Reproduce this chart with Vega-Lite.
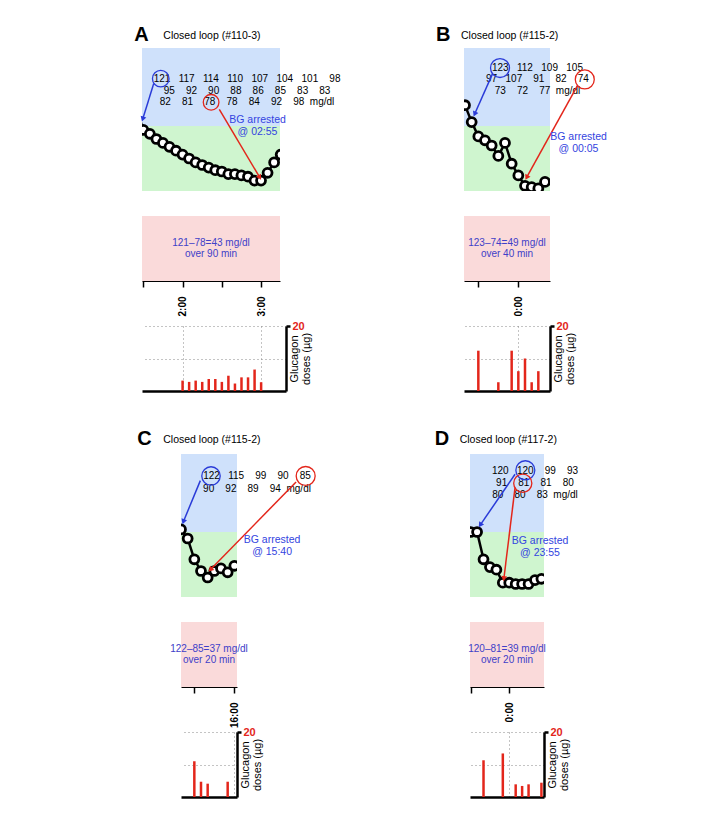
{
"$schema": "https://vega.github.io/schema/vega-lite/v6.json",
"background": "white",
"padding": {"left": 134, "top": 24, "right": 5, "bottom": 5},
"config": {"font": "Liberation Sans", "view": {"stroke": null}, "title": {"font": "Liberation Sans", "color": "black"}},
"datasets": {
"bg": [
{"panel":"A","t":"2000-01-01T01:25:00","bg":121,"line":1},
{"panel":"A","t":"2000-01-01T01:30:00","bg":117,"line":1},
{"panel":"A","t":"2000-01-01T01:35:00","bg":114,"line":1},
{"panel":"A","t":"2000-01-01T01:40:00","bg":110,"line":1},
{"panel":"A","t":"2000-01-01T01:45:00","bg":107,"line":1},
{"panel":"A","t":"2000-01-01T01:50:00","bg":104,"line":1},
{"panel":"A","t":"2000-01-01T01:55:00","bg":101,"line":1},
{"panel":"A","t":"2000-01-01T02:00:00","bg":98,"line":1},
{"panel":"A","t":"2000-01-01T02:05:00","bg":95,"line":2},
{"panel":"A","t":"2000-01-01T02:10:00","bg":92,"line":2},
{"panel":"A","t":"2000-01-01T02:15:00","bg":90,"line":2},
{"panel":"A","t":"2000-01-01T02:20:00","bg":88,"line":2},
{"panel":"A","t":"2000-01-01T02:25:00","bg":86,"line":2},
{"panel":"A","t":"2000-01-01T02:30:00","bg":85,"line":2},
{"panel":"A","t":"2000-01-01T02:35:00","bg":83,"line":2},
{"panel":"A","t":"2000-01-01T02:40:00","bg":83,"line":2},
{"panel":"A","t":"2000-01-01T02:45:00","bg":82,"line":3},
{"panel":"A","t":"2000-01-01T02:50:00","bg":81,"line":3},
{"panel":"A","t":"2000-01-01T02:55:00","bg":78,"line":3},
{"panel":"A","t":"2000-01-01T03:00:00","bg":78,"line":3},
{"panel":"A","t":"2000-01-01T03:05:00","bg":84,"line":3},
{"panel":"A","t":"2000-01-01T03:10:00","bg":92,"line":3},
{"panel":"A","t":"2000-01-01T03:15:00","bg":98,"line":3},
{"panel":"B","t":"2000-01-01T23:20:00","bg":136},
{"panel":"B","t":"2000-01-01T23:25:00","bg":123,"line":1},
{"panel":"B","t":"2000-01-01T23:30:00","bg":112,"line":1},
{"panel":"B","t":"2000-01-01T23:35:00","bg":109,"line":1},
{"panel":"B","t":"2000-01-01T23:40:00","bg":105,"line":1},
{"panel":"B","t":"2000-01-01T23:45:00","bg":97,"line":2},
{"panel":"B","t":"2000-01-01T23:50:00","bg":107,"line":2},
{"panel":"B","t":"2000-01-01T23:55:00","bg":91,"line":2},
{"panel":"B","t":"2000-01-02T00:00:00","bg":82,"line":2},
{"panel":"B","t":"2000-01-02T00:05:00","bg":74,"line":2},
{"panel":"B","t":"2000-01-02T00:10:00","bg":73,"line":3},
{"panel":"B","t":"2000-01-02T00:15:00","bg":72,"line":3},
{"panel":"B","t":"2000-01-02T00:20:00","bg":77,"line":3},
{"panel":"C","t":"2000-01-01T15:15:00","bg":132},
{"panel":"C","t":"2000-01-01T15:20:00","bg":122,"line":1},
{"panel":"C","t":"2000-01-01T15:25:00","bg":115,"line":1},
{"panel":"C","t":"2000-01-01T15:30:00","bg":99,"line":1},
{"panel":"C","t":"2000-01-01T15:35:00","bg":90,"line":1},
{"panel":"C","t":"2000-01-01T15:40:00","bg":85,"line":1},
{"panel":"C","t":"2000-01-01T15:45:00","bg":90,"line":2},
{"panel":"C","t":"2000-01-01T15:50:00","bg":92,"line":2},
{"panel":"C","t":"2000-01-01T15:55:00","bg":89,"line":2},
{"panel":"C","t":"2000-01-01T16:00:00","bg":94,"line":2},
{"panel":"D","t":"2000-01-01T23:30:00","bg":120,"line":1},
{"panel":"D","t":"2000-01-01T23:35:00","bg":120,"line":1},
{"panel":"D","t":"2000-01-01T23:40:00","bg":99,"line":1},
{"panel":"D","t":"2000-01-01T23:45:00","bg":93,"line":1},
{"panel":"D","t":"2000-01-01T23:50:00","bg":91,"line":2},
{"panel":"D","t":"2000-01-01T23:55:00","bg":81,"line":2},
{"panel":"D","t":"2000-01-02T00:00:00","bg":81,"line":2},
{"panel":"D","t":"2000-01-02T00:05:00","bg":80,"line":2},
{"panel":"D","t":"2000-01-02T00:10:00","bg":80,"line":3},
{"panel":"D","t":"2000-01-02T00:15:00","bg":80,"line":3},
{"panel":"D","t":"2000-01-02T00:20:00","bg":83,"line":3},
{"panel":"D","t":"2000-01-02T00:25:00","bg":84}
],
"glucagon": [
{"panel":"A","t":"2000-01-01T02:00:00","dose":3.2},
{"panel":"A","t":"2000-01-01T02:05:00","dose":2.8},
{"panel":"A","t":"2000-01-01T02:10:00","dose":3.2},
{"panel":"A","t":"2000-01-01T02:15:00","dose":2.8},
{"panel":"A","t":"2000-01-01T02:20:00","dose":3.7},
{"panel":"A","t":"2000-01-01T02:25:00","dose":3.7},
{"panel":"A","t":"2000-01-01T02:30:00","dose":2.8},
{"panel":"A","t":"2000-01-01T02:35:00","dose":4.7},
{"panel":"A","t":"2000-01-01T02:40:00","dose":2.3},
{"panel":"A","t":"2000-01-01T02:45:00","dose":4.2},
{"panel":"A","t":"2000-01-01T02:50:00","dose":4.2},
{"panel":"A","t":"2000-01-01T02:55:00","dose":6.6},
{"panel":"A","t":"2000-01-01T03:00:00","dose":2.7},
{"panel":"B","t":"2000-01-01T23:30:00","dose":12.4},
{"panel":"B","t":"2000-01-01T23:45:00","dose":2.7},
{"panel":"B","t":"2000-01-01T23:55:00","dose":12.4},
{"panel":"B","t":"2000-01-02T00:00:00","dose":6.1},
{"panel":"B","t":"2000-01-02T00:05:00","dose":10.0},
{"panel":"B","t":"2000-01-02T00:10:00","dose":2.7},
{"panel":"B","t":"2000-01-02T00:15:00","dose":6.1},
{"panel":"C","t":"2000-01-01T15:30:00","dose":11.0},
{"panel":"C","t":"2000-01-01T15:35:00","dose":4.7},
{"panel":"C","t":"2000-01-01T15:40:00","dose":4.1},
{"panel":"C","t":"2000-01-01T15:55:00","dose":4.7},
{"panel":"D","t":"2000-01-01T23:40:00","dose":11.3},
{"panel":"D","t":"2000-01-01T23:55:00","dose":13.4},
{"panel":"D","t":"2000-01-02T00:05:00","dose":3.9},
{"panel":"D","t":"2000-01-02T00:10:00","dose":3.4},
{"panel":"D","t":"2000-01-02T00:15:00","dose":3.9},
{"panel":"D","t":"2000-01-02T00:25:00","dose":4.4}
]
},
"columns": 1,
"align": "none",
"spacing": 35,
"concat": [
{"spacing": 95, "hconcat": [
{"title": {"text": "A", "fontSize": 20, "fontWeight": "bold", "anchor": "start", "dx": -4, "dy": 14, "offset": 0},
 "vconcat": [{
  "title": {"text": "Closed loop (#110-3)", "fontSize": 10.5, "fontWeight": "normal", "anchor": "start", "dx": 25, "offset": 7},
  "spacing": 25,
  "vconcat": [
   {"width": 138, "height": 143, "layer": [
    {"data": {"values": [{}]}, "mark": {"type": "rect", "color": "#cfe1fb"},
     "encoding": {"x": {"datum": {"year":2000,"month":1,"date":1,"hours":1,"minutes":29}, "type": "temporal", "scale": {"domain": [{"year":2000,"month":1,"date":1,"hours":1,"minutes":29},{"year":2000,"month":1,"date":1,"hours":3,"minutes":14,"seconds":30}], "nice": false}, "axis": null},
      "x2": {"datum": {"year":2000,"month":1,"date":1,"hours":3,"minutes":14,"seconds":30}},
      "y": {"datum": 120, "type": "quantitative", "scale": {"domain": [70,180], "nice": false, "zero": false}, "axis": null}, "y2": {"datum": 180}}},
    {"data": {"values": [{}]}, "mark": {"type": "rect", "color": "#cff5cf"},
     "encoding": {"x": {"datum": {"year":2000,"month":1,"date":1,"hours":1,"minutes":29}, "type": "temporal", "axis": null},
      "x2": {"datum": {"year":2000,"month":1,"date":1,"hours":3,"minutes":14,"seconds":30}},
      "y": {"datum": 70, "type": "quantitative", "axis": null}, "y2": {"datum": 120}}},
    {"data": {"name": "bg"}, "transform": [{"filter": "datum.panel == 'A'"}], "mark": {"type": "line", "color": "black", "strokeWidth": 2.5, "clip": true},
     "encoding": {"x": {"field": "t", "type": "temporal", "axis": null}, "y": {"field": "bg", "type": "quantitative", "axis": null}}},
    {"data": {"name": "bg"}, "transform": [{"filter": "datum.panel == 'A'"}], "mark": {"type": "point", "shape": "circle", "filled": true, "fill": "white", "stroke": "black", "strokeWidth": 2.8, "size": 80, "opacity": 1, "clip": true},
     "encoding": {"x": {"field": "t", "type": "temporal", "axis": null}, "y": {"field": "bg", "type": "quantitative", "axis": null}}},
    {"data": {"name": "bg"}, "transform": [
      {"filter": "datum.panel == 'A' && isValid(datum.line)"},
      {"calculate": "(datum.bg < 100 ? '\u2008' : '') + datum.bg", "as": "tok"},
      {"aggregate": [{"op": "values", "field": "tok", "as": "vals"}], "groupby": ["line"]},
      {"joinaggregate": [{"op": "max", "field": "line", "as": "maxline"}]},
      {"calculate": "join(pluck(datum.vals, 'tok'), '\u00a0\u00a0\u00a0') + (datum.line == datum.maxline ? '\u00a0\u00a0mg/dl' : '')", "as": "txt"},
      {"aggregate": [{"op": "values", "field": "txt", "as": "all"}]},
      {"calculate": "pluck(datum.all, 'txt')", "as": "lines"}],
     "mark": {"type": "text", "fontSize": 10, "lineHeight": 11.7, "align": "center", "baseline": "middle", "color": "black"},
     "encoding": {"x": {"datum": {"year":2000,"month":1,"date":1,"hours":2,"minutes":49,"seconds":18}, "type": "temporal", "axis": null}, "y": {"datum": 156.2, "type": "quantitative", "axis": null}, "text": {"field": "lines", "type": "nominal"}}},
    {"data": {"values": [{}]}, "mark": {"type": "point", "shape": "circle", "filled": false, "stroke": "#2a3bd8", "strokeWidth": 1.3, "size": 275, "opacity": 1},
     "encoding": {"x": {"datum": {"year":2000,"month":1,"date":1,"hours":1,"minutes":43,"seconds":20}, "type": "temporal", "axis": null}, "y": {"datum": 156.4, "type": "quantitative", "axis": null}}},
    {"data": {"values": [{}]}, "mark": {"type": "point", "shape": "circle", "filled": false, "stroke": "#e3261b", "strokeWidth": 1.3, "size": 245, "opacity": 1},
     "encoding": {"x": {"datum": {"year":2000,"month":1,"date":1,"hours":2,"minutes":21,"seconds":50}, "type": "temporal", "axis": null}, "y": {"datum": 138.2, "type": "quantitative", "axis": null}}},
    {"data": {"values": [{}]}, "mark": {"type": "rule", "color": "#2a3bd8", "strokeWidth": 1.5},
     "encoding": {"x": {"datum": {"year":2000,"month":1,"date":1,"hours":1,"minutes":38,"seconds":0}, "type": "temporal", "axis": null}, "y": {"datum": 152.8, "type": "quantitative", "axis": null},
      "x2": {"datum": {"year":2000,"month":1,"date":1,"hours":1,"minutes":29,"seconds":45}}, "y2": {"datum": 125.9}}},
    {"data": {"values": [{}]}, "mark": {"type": "point", "shape": "triangle", "filled": true, "color": "#2a3bd8", "size": 35, "angle": 198, "opacity": 1},
     "encoding": {"x": {"datum": {"year":2000,"month":1,"date":1,"hours":1,"minutes":29,"seconds":45}, "type": "temporal", "axis": null}, "y": {"datum": 125.9, "type": "quantitative", "axis": null}}},
    {"data": {"values": [{}]}, "mark": {"type": "rule", "color": "#e3261b", "strokeWidth": 1.5},
     "encoding": {"x": {"datum": {"year":2000,"month":1,"date":1,"hours":2,"minutes":28,"seconds":6}, "type": "temporal", "axis": null}, "y": {"datum": 132.8, "type": "quantitative", "axis": null},
      "x2": {"datum": {"year":2000,"month":1,"date":1,"hours":2,"minutes":58,"seconds":42}}, "y2": {"datum": 81}}},
    {"data": {"values": [{}]}, "mark": {"type": "point", "shape": "triangle", "filled": true, "color": "#e3261b", "size": 35, "angle": 149, "opacity": 1},
     "encoding": {"x": {"datum": {"year":2000,"month":1,"date":1,"hours":2,"minutes":58,"seconds":42}, "type": "temporal", "axis": null}, "y": {"datum": 81, "type": "quantitative", "axis": null}}},
    {"data": {"values": [{}]}, "mark": {"type": "text", "fontSize": 10.5, "lineHeight": 12, "align": "center", "baseline": "middle", "color": "#3344e0"},
     "encoding": {"x": {"datum": {"year":2000,"month":1,"date":1,"hours":2,"minutes":57,"seconds":18}, "type": "temporal", "axis": null}, "y": {"datum": 124.6, "type": "quantitative", "axis": null}, "text": {"value": ["BG arrested", "@ 02:55"]}}}
   ]},
   {"bounds": "flush", "spacing": 45, "vconcat": [
    {"width": 138, "height": 65, "view": {"fill": "#fadada", "stroke": null}, "data": {"values": [{}]},
     "mark": {"type": "text", "fontSize": 10, "lineHeight": 11.5, "align": "center", "baseline": "middle", "color": "#4040c8", "dy": -6},
     "encoding": {"x": {"datum": {"year":2000,"month":1,"date":1,"hours":2,"minutes":21,"seconds":45}, "type": "temporal",
       "scale": {"domain": [{"year":2000,"month":1,"date":1,"hours":1,"minutes":29},{"year":2000,"month":1,"date":1,"hours":3,"minutes":14,"seconds":30}], "nice": false},
       "axis": {"values": [{"year":2000,"month":1,"date":1,"hours":1,"minutes":30},{"year":2000,"month":1,"date":1,"hours":2,"minutes":0},{"year":2000,"month":1,"date":1,"hours":2,"minutes":30},{"year":2000,"month":1,"date":1,"hours":3,"minutes":0}],
        "labelExpr": "minutes(datum.value) == 0 ? timeFormat(datum.value, '%-H:%M') : ''", "labelAngle": 270, "labelFontWeight": "bold", "labelFontSize": 10, "labelColor": "black", "labelPadding": 9, "labelFlush": false, "labelOverlap": false,
        "tickSize": 6, "tickWidth": 1.5, "tickColor": "black", "domainColor": "black", "domainWidth": 1, "title": null, "grid": false}},
      "text": {"value": ["121–78=43 mg/dl", "over 90 min"]}}},
    {"width": 144, "height": 65, "data": {"name": "glucagon"}, "transform": [{"filter": "datum.panel == 'A'"}],
     "mark": {"type": "rule", "color": "#e3261b", "strokeWidth": 2.5},
     "encoding": {"x": {"field": "t", "type": "temporal", "scale": {"domain": [{"year":2000,"month":1,"date":1,"hours":1,"minutes":29},{"year":2000,"month":1,"date":1,"hours":3,"minutes":19}], "nice": false},
       "axis": {"values": [{"year":2000,"month":1,"date":1,"hours":2,"minutes":0},{"year":2000,"month":1,"date":1,"hours":3,"minutes":0}], "labels": false, "ticks": false, "domainColor": "black", "domainWidth": 2.5, "grid": true, "gridDash": [1,3], "gridColor": "#888", "title": null}},
      "y": {"field": "dose", "type": "quantitative", "scale": {"domain": [0,20], "nice": false},
       "axis": {"orient": "right", "values": [10,20], "labelExpr": "datum.value == 20 ? '20' : ''", "labelColor": "#e3261b", "labelFontWeight": "bold", "labelFontSize": 11, "labelPadding": 2,
        "tickSize": 4, "tickWidth": 2.5, "tickColor": {"condition": {"test": "datum.value == 20", "value": "black"}, "value": "transparent"},
        "domainColor": "black", "domainWidth": 2.5, "grid": true, "gridDash": [1,3], "gridColor": "#888",
        "title": ["Glucagon", "doses (µg)"], "titleAngle": 270, "titleBaseline": "top", "titleAlign": "center", "titleFontSize": 11, "titleFontWeight": "normal", "titlePadding": -27, "titleLineHeight": 11.5}},
      "y2": {"datum": 0}}}
   ]}
  ]
 }]
},
{"title": {"text": "B", "fontSize": 20, "fontWeight": "bold", "anchor": "start", "dx": -25, "dy": 14, "offset": 0},
 "vconcat": [{
  "title": {"text": "Closed loop (#115-2)", "fontSize": 10.5, "fontWeight": "normal", "anchor": "start", "dx": -3, "offset": 7},
  "spacing": 25,
  "vconcat": [
   {"width": 86, "height": 143, "layer": [
    {"data": {"values": [{}]}, "mark": {"type": "rect", "color": "#cfe1fb"},
     "encoding": {"x": {"datum": {"year":2000,"month":1,"date":1,"hours":23,"minutes":19,"seconds":15}, "type": "temporal", "scale": {"domain": [{"year":2000,"month":1,"date":1,"hours":23,"minutes":19,"seconds":15},{"year":2000,"month":1,"date":2,"hours":0,"minutes":23,"seconds":45}], "nice": false}, "axis": null},
      "x2": {"datum": {"year":2000,"month":1,"date":2,"hours":0,"minutes":23,"seconds":45}},
      "y": {"datum": 120, "type": "quantitative", "scale": {"domain": [70,180], "nice": false, "zero": false}, "axis": null}, "y2": {"datum": 180}}},
    {"data": {"values": [{}]}, "mark": {"type": "rect", "color": "#cff5cf"},
     "encoding": {"x": {"datum": {"year":2000,"month":1,"date":1,"hours":23,"minutes":19,"seconds":15}, "type": "temporal", "axis": null},
      "x2": {"datum": {"year":2000,"month":1,"date":2,"hours":0,"minutes":23,"seconds":45}},
      "y": {"datum": 70, "type": "quantitative", "axis": null}, "y2": {"datum": 120}}},
    {"data": {"name": "bg"}, "transform": [{"filter": "datum.panel == 'B'"}], "mark": {"type": "line", "color": "black", "strokeWidth": 2.5, "clip": true},
     "encoding": {"x": {"field": "t", "type": "temporal", "axis": null}, "y": {"field": "bg", "type": "quantitative", "axis": null}}},
    {"data": {"name": "bg"}, "transform": [{"filter": "datum.panel == 'B'"}], "mark": {"type": "point", "shape": "circle", "filled": true, "fill": "white", "stroke": "black", "strokeWidth": 2.8, "size": 80, "opacity": 1, "clip": true},
     "encoding": {"x": {"field": "t", "type": "temporal", "axis": null}, "y": {"field": "bg", "type": "quantitative", "axis": null}}},
    {"data": {"name": "bg"}, "transform": [
      {"filter": "datum.panel == 'B' && isValid(datum.line)"},
      {"calculate": "(datum.bg < 100 ? '\u2008' : '') + datum.bg", "as": "tok"},
      {"aggregate": [{"op": "values", "field": "tok", "as": "vals"}], "groupby": ["line"]},
      {"joinaggregate": [{"op": "max", "field": "line", "as": "maxline"}]},
      {"calculate": "join(pluck(datum.vals, 'tok'), '\u00a0\u00a0\u00a0') + (datum.line == datum.maxline ? '\u00a0\u00a0mg/dl' : '')", "as": "txt"},
      {"aggregate": [{"op": "values", "field": "txt", "as": "all"}]},
      {"calculate": "pluck(datum.all, 'txt')", "as": "lines"}],
     "mark": {"type": "text", "fontSize": 10, "lineHeight": 11.2, "align": "center", "baseline": "middle", "color": "black"},
     "encoding": {"x": {"datum": {"year":2000,"month":1,"date":2,"hours":0,"minutes":14,"seconds":21}, "type": "temporal", "axis": null}, "y": {"datum": 164.4, "type": "quantitative", "axis": null}, "text": {"field": "lines", "type": "nominal"}}},
    {"data": {"values": [{}]}, "mark": {"type": "point", "shape": "circle", "filled": false, "stroke": "#2a3bd8", "strokeWidth": 1.3, "size": 360, "opacity": 1},
     "encoding": {"x": {"datum": {"year":2000,"month":1,"date":1,"hours":23,"minutes":46,"seconds":15}, "type": "temporal", "axis": null}, "y": {"datum": 164.6, "type": "quantitative", "axis": null}}},
    {"data": {"values": [{}]}, "mark": {"type": "point", "shape": "circle", "filled": false, "stroke": "#e3261b", "strokeWidth": 1.3, "size": 360, "opacity": 1},
     "encoding": {"x": {"datum": {"year":2000,"month":1,"date":2,"hours":0,"minutes":49,"seconds":50}, "type": "temporal", "axis": null}, "y": {"datum": 155.8, "type": "quantitative", "axis": null}}},
    {"data": {"values": [{}]}, "mark": {"type": "rule", "color": "#2a3bd8", "strokeWidth": 1.5},
     "encoding": {"x": {"datum": {"year":2000,"month":1,"date":1,"hours":23,"minutes":40,"seconds":45}, "type": "temporal", "axis": null}, "y": {"datum": 160.5, "type": "quantitative", "axis": null},
      "x2": {"datum": {"year":2000,"month":1,"date":1,"hours":23,"minutes":27,"seconds":30}}, "y2": {"datum": 129.8}}},
    {"data": {"values": [{}]}, "mark": {"type": "point", "shape": "triangle", "filled": true, "color": "#2a3bd8", "size": 35, "angle": 204, "opacity": 1},
     "encoding": {"x": {"datum": {"year":2000,"month":1,"date":1,"hours":23,"minutes":27,"seconds":30}, "type": "temporal", "axis": null}, "y": {"datum": 129.8, "type": "quantitative", "axis": null}}},
    {"data": {"values": [{}]}, "mark": {"type": "rule", "color": "#e3261b", "strokeWidth": 1.5},
     "encoding": {"x": {"datum": {"year":2000,"month":1,"date":2,"hours":0,"minutes":44,"seconds":33}, "type": "temporal", "axis": null}, "y": {"datum": 151.5, "type": "quantitative", "axis": null},
      "x2": {"datum": {"year":2000,"month":1,"date":2,"hours":0,"minutes":6,"seconds":33}}, "y2": {"datum": 81}}},
    {"data": {"values": [{}]}, "mark": {"type": "point", "shape": "triangle", "filled": true, "color": "#e3261b", "size": 35, "angle": 209, "opacity": 1},
     "encoding": {"x": {"datum": {"year":2000,"month":1,"date":2,"hours":0,"minutes":6,"seconds":33}, "type": "temporal", "axis": null}, "y": {"datum": 81, "type": "quantitative", "axis": null}}},
    {"data": {"values": [{}]}, "mark": {"type": "text", "fontSize": 10.5, "lineHeight": 12, "align": "center", "baseline": "middle", "color": "#3344e0"},
     "encoding": {"x": {"datum": {"year":2000,"month":1,"date":2,"hours":0,"minutes":45,"seconds":9}, "type": "temporal", "axis": null}, "y": {"datum": 111.5, "type": "quantitative", "axis": null}, "text": {"value": ["BG arrested", "@ 00:05"]}}}
   ]},
   {"bounds": "flush", "spacing": 45, "vconcat": [
    {"width": 86, "height": 65, "view": {"fill": "#fadada", "stroke": null}, "data": {"values": [{}]},
     "mark": {"type": "text", "fontSize": 10, "lineHeight": 11.5, "align": "center", "baseline": "middle", "color": "#4040c8", "dy": -6},
     "encoding": {"x": {"datum": {"year":2000,"month":1,"date":1,"hours":23,"minutes":51,"seconds":30}, "type": "temporal",
       "scale": {"domain": [{"year":2000,"month":1,"date":1,"hours":23,"minutes":19,"seconds":15},{"year":2000,"month":1,"date":2,"hours":0,"minutes":23,"seconds":45}], "nice": false},
       "axis": {"values": [{"year":2000,"month":1,"date":1,"hours":23,"minutes":30},{"year":2000,"month":1,"date":2,"hours":0,"minutes":0}],
        "labelExpr": "minutes(datum.value) == 0 ? timeFormat(datum.value, '%-H:%M') : ''", "labelAngle": 270, "labelFontWeight": "bold", "labelFontSize": 10, "labelColor": "black", "labelPadding": 9, "labelFlush": false, "labelOverlap": false,
        "tickSize": 6, "tickWidth": 1.5, "tickColor": "black", "domainColor": "black", "domainWidth": 1, "title": null, "grid": false}},
      "text": {"value": ["123–74=49 mg/dl", "over 40 min"]}}},
    {"width": 86, "height": 65, "data": {"name": "glucagon"}, "transform": [{"filter": "datum.panel == 'B'"}],
     "mark": {"type": "rule", "color": "#e3261b", "strokeWidth": 2.5},
     "encoding": {"x": {"field": "t", "type": "temporal", "scale": {"domain": [{"year":2000,"month":1,"date":1,"hours":23,"minutes":19,"seconds":15},{"year":2000,"month":1,"date":2,"hours":0,"minutes":23,"seconds":45}], "nice": false},
       "axis": {"values": [{"year":2000,"month":1,"date":2,"hours":0,"minutes":0}], "labels": false, "ticks": false, "domainColor": "black", "domainWidth": 2.5, "grid": true, "gridDash": [1,3], "gridColor": "#888", "title": null}},
      "y": {"field": "dose", "type": "quantitative", "scale": {"domain": [0,20], "nice": false},
       "axis": {"orient": "right", "values": [10,20], "labelExpr": "datum.value == 20 ? '20' : ''", "labelColor": "#e3261b", "labelFontWeight": "bold", "labelFontSize": 11, "labelPadding": 2,
        "tickSize": 4, "tickWidth": 2.5, "tickColor": {"condition": {"test": "datum.value == 20", "value": "black"}, "value": "transparent"},
        "domainColor": "black", "domainWidth": 2.5, "grid": true, "gridDash": [1,3], "gridColor": "#888",
        "title": ["Glucagon", "doses (µg)"], "titleAngle": 270, "titleBaseline": "top", "titleAlign": "center", "titleFontSize": 11, "titleFontWeight": "normal", "titlePadding": -27, "titleLineHeight": 11.5}},
      "y2": {"datum": 0}}}
   ]}
  ]
 }]
}
]},
{"spacing": 116, "hconcat": [
{"spacing": -6, "hconcat": [
{"width": 1, "height": 1, "data": {"values": []}, "mark": "point"},
{"title": {"text": "C", "fontSize": 20, "fontWeight": "bold", "anchor": "start", "dx": -26, "dy": 14, "offset": 0},
 "vconcat": [{
  "title": {"text": "Closed loop (#115-2)", "fontSize": 10.5, "fontWeight": "normal", "anchor": "start", "dx": -7, "offset": 9},
  "spacing": 25,
  "vconcat": [
   {"width": 56, "height": 143, "layer": [
    {"data": {"values": [{}]}, "mark": {"type": "rect", "color": "#cfe1fb"},
     "encoding": {"x": {"datum": {"year":2000,"month":1,"date":1,"hours":15,"minutes":20}, "type": "temporal", "scale": {"domain": [{"year":2000,"month":1,"date":1,"hours":15,"minutes":20},{"year":2000,"month":1,"date":1,"hours":16,"minutes":2}], "nice": false}, "axis": null},
      "x2": {"datum": {"year":2000,"month":1,"date":1,"hours":16,"minutes":2}},
      "y": {"datum": 120, "type": "quantitative", "scale": {"domain": [70,180], "nice": false, "zero": false}, "axis": null}, "y2": {"datum": 180}}},
    {"data": {"values": [{}]}, "mark": {"type": "rect", "color": "#cff5cf"},
     "encoding": {"x": {"datum": {"year":2000,"month":1,"date":1,"hours":15,"minutes":20}, "type": "temporal", "axis": null},
      "x2": {"datum": {"year":2000,"month":1,"date":1,"hours":16,"minutes":2}},
      "y": {"datum": 70, "type": "quantitative", "axis": null}, "y2": {"datum": 120}}},
    {"data": {"name": "bg"}, "transform": [{"filter": "datum.panel == 'C'"}], "mark": {"type": "line", "color": "black", "strokeWidth": 2.5, "clip": true},
     "encoding": {"x": {"field": "t", "type": "temporal", "axis": null}, "y": {"field": "bg", "type": "quantitative", "axis": null}}},
    {"data": {"name": "bg"}, "transform": [{"filter": "datum.panel == 'C'"}], "mark": {"type": "point", "shape": "circle", "filled": true, "fill": "white", "stroke": "black", "strokeWidth": 2.8, "size": 80, "opacity": 1, "clip": true},
     "encoding": {"x": {"field": "t", "type": "temporal", "axis": null}, "y": {"field": "bg", "type": "quantitative", "axis": null}}},
    {"data": {"name": "bg"}, "transform": [
      {"filter": "datum.panel == 'C' && isValid(datum.line)"},
      {"calculate": "(datum.bg < 100 ? '\u2008' : '') + datum.bg", "as": "tok"},
      {"aggregate": [{"op": "values", "field": "tok", "as": "vals"}], "groupby": ["line"]},
      {"joinaggregate": [{"op": "max", "field": "line", "as": "maxline"}]},
      {"calculate": "join(pluck(datum.vals, 'tok'), '\u00a0\u00a0\u00a0') + (datum.line == datum.maxline ? '\u00a0\u00a0mg/dl' : '')", "as": "txt"},
      {"aggregate": [{"op": "values", "field": "txt", "as": "all"}]},
      {"calculate": "pluck(datum.all, 'txt')", "as": "lines"}],
     "mark": {"type": "text", "fontSize": 10, "lineHeight": 13, "align": "center", "baseline": "middle", "color": "black"},
     "encoding": {"x": {"datum": {"year":2000,"month":1,"date":1,"hours":16,"minutes":17}, "type": "temporal", "axis": null}, "y": {"datum": 163.1, "type": "quantitative", "axis": null}, "text": {"field": "lines", "type": "nominal"}}},
    {"data": {"values": [{}]}, "mark": {"type": "point", "shape": "circle", "filled": false, "stroke": "#2a3bd8", "strokeWidth": 1.3, "size": 340, "opacity": 1},
     "encoding": {"x": {"datum": {"year":2000,"month":1,"date":1,"hours":15,"minutes":42,"seconds":30}, "type": "temporal", "axis": null}, "y": {"datum": 163.1, "type": "quantitative", "axis": null}}},
    {"data": {"values": [{}]}, "mark": {"type": "point", "shape": "circle", "filled": false, "stroke": "#e3261b", "strokeWidth": 1.3, "size": 360, "opacity": 1},
     "encoding": {"x": {"datum": {"year":2000,"month":1,"date":1,"hours":16,"minutes":53,"seconds":30}, "type": "temporal", "axis": null}, "y": {"datum": 163.1, "type": "quantitative", "axis": null}}},
    {"data": {"values": [{}]}, "mark": {"type": "rule", "color": "#2a3bd8", "strokeWidth": 1.5},
     "encoding": {"x": {"datum": {"year":2000,"month":1,"date":1,"hours":15,"minutes":34,"seconds":30}, "type": "temporal", "axis": null}, "y": {"datum": 159.5, "type": "quantitative", "axis": null},
      "x2": {"datum": {"year":2000,"month":1,"date":1,"hours":15,"minutes":22}}, "y2": {"datum": 128.5}}},
    {"data": {"values": [{}]}, "mark": {"type": "point", "shape": "triangle", "filled": true, "color": "#2a3bd8", "size": 35, "angle": 200, "opacity": 1},
     "encoding": {"x": {"datum": {"year":2000,"month":1,"date":1,"hours":15,"minutes":22}, "type": "temporal", "axis": null}, "y": {"datum": 128.5, "type": "quantitative", "axis": null}}},
    {"data": {"values": [{}]}, "mark": {"type": "rule", "color": "#e3261b", "strokeWidth": 1.5},
     "encoding": {"x": {"datum": {"year":2000,"month":1,"date":1,"hours":16,"minutes":46,"seconds":18}, "type": "temporal", "axis": null}, "y": {"datum": 158.5, "type": "quantitative", "axis": null},
      "x2": {"datum": {"year":2000,"month":1,"date":1,"hours":15,"minutes":42,"seconds":30}}, "y2": {"datum": 91.5}}},
    {"data": {"values": [{}]}, "mark": {"type": "point", "shape": "triangle", "filled": true, "color": "#e3261b", "size": 35, "angle": 224, "opacity": 1},
     "encoding": {"x": {"datum": {"year":2000,"month":1,"date":1,"hours":15,"minutes":42,"seconds":30}, "type": "temporal", "axis": null}, "y": {"datum": 91.5, "type": "quantitative", "axis": null}}},
    {"data": {"values": [{}]}, "mark": {"type": "text", "fontSize": 10.5, "lineHeight": 12, "align": "center", "baseline": "middle", "color": "#3344e0"},
     "encoding": {"x": {"datum": {"year":2000,"month":1,"date":1,"hours":16,"minutes":28,"seconds":18}, "type": "temporal", "axis": null}, "y": {"datum": 113.8, "type": "quantitative", "axis": null}, "text": {"value": ["BG arrested", "@ 15:40"]}}}
   ]},
   {"bounds": "flush", "spacing": 45, "vconcat": [
    {"width": 56, "height": 65, "view": {"fill": "#fadada", "stroke": null}, "data": {"values": [{}]},
     "mark": {"type": "text", "fontSize": 10, "lineHeight": 11.5, "align": "center", "baseline": "middle", "color": "#4040c8", "dy": -6},
     "encoding": {"x": {"datum": {"year":2000,"month":1,"date":1,"hours":15,"minutes":41}, "type": "temporal",
       "scale": {"domain": [{"year":2000,"month":1,"date":1,"hours":15,"minutes":20},{"year":2000,"month":1,"date":1,"hours":16,"minutes":2}], "nice": false},
       "axis": {"values": [{"year":2000,"month":1,"date":1,"hours":15,"minutes":30},{"year":2000,"month":1,"date":1,"hours":16,"minutes":0}],
        "labelExpr": "minutes(datum.value) == 0 ? timeFormat(datum.value, '%-H:%M') : ''", "labelAngle": 270, "labelFontWeight": "bold", "labelFontSize": 10, "labelColor": "black", "labelPadding": 9, "labelFlush": false, "labelOverlap": false,
        "tickSize": 6, "tickWidth": 1.5, "tickColor": "black", "domainColor": "black", "domainWidth": 1, "title": null, "grid": false}},
      "text": {"value": ["122–85=37 mg/dl", "over 20 min"]}}},
    {"width": 56, "height": 65, "data": {"name": "glucagon"}, "transform": [{"filter": "datum.panel == 'C'"}],
     "mark": {"type": "rule", "color": "#e3261b", "strokeWidth": 2.5},
     "encoding": {"x": {"field": "t", "type": "temporal", "scale": {"domain": [{"year":2000,"month":1,"date":1,"hours":15,"minutes":20},{"year":2000,"month":1,"date":1,"hours":16,"minutes":2}], "nice": false},
       "axis": {"values": [{"year":2000,"month":1,"date":1,"hours":16,"minutes":0}], "labels": false, "ticks": false, "domainColor": "black", "domainWidth": 2.5, "grid": true, "gridDash": [1,3], "gridColor": "#888", "title": null}},
      "y": {"field": "dose", "type": "quantitative", "scale": {"domain": [0,20], "nice": false},
       "axis": {"orient": "right", "values": [10,20], "labelExpr": "datum.value == 20 ? '20' : ''", "labelColor": "#e3261b", "labelFontWeight": "bold", "labelFontSize": 11, "labelPadding": 2,
        "tickSize": 4, "tickWidth": 2.5, "tickColor": {"condition": {"test": "datum.value == 20", "value": "black"}, "value": "transparent"},
        "domainColor": "black", "domainWidth": 2.5, "grid": true, "gridDash": [1,3], "gridColor": "#888",
        "title": ["Glucagon", "doses (µg)"], "titleAngle": 270, "titleBaseline": "top", "titleAlign": "center", "titleFontSize": 11, "titleFontWeight": "normal", "titlePadding": -27, "titleLineHeight": 11.5}},
      "y2": {"datum": 0}}}
   ]}
  ]
 }]
}
]},
{"title": {"text": "D", "fontSize": 20, "fontWeight": "bold", "anchor": "start", "dx": -25, "dy": 14, "offset": 0},
 "vconcat": [{
  "title": {"text": "Closed loop (#117-2)", "fontSize": 10.5, "fontWeight": "normal", "anchor": "start", "dx": -6, "offset": 9},
  "spacing": 25,
  "vconcat": [
   {"width": 74, "height": 143, "layer": [
    {"data": {"values": [{}]}, "mark": {"type": "rect", "color": "#cfe1fb"},
     "encoding": {"x": {"datum": {"year":2000,"month":1,"date":1,"hours":23,"minutes":29,"seconds":30}, "type": "temporal", "scale": {"domain": [{"year":2000,"month":1,"date":1,"hours":23,"minutes":29,"seconds":30},{"year":2000,"month":1,"date":2,"hours":0,"minutes":27}], "nice": false}, "axis": null},
      "x2": {"datum": {"year":2000,"month":1,"date":2,"hours":0,"minutes":27}},
      "y": {"datum": 120, "type": "quantitative", "scale": {"domain": [70,180], "nice": false, "zero": false}, "axis": null}, "y2": {"datum": 180}}},
    {"data": {"values": [{}]}, "mark": {"type": "rect", "color": "#cff5cf"},
     "encoding": {"x": {"datum": {"year":2000,"month":1,"date":1,"hours":23,"minutes":29,"seconds":30}, "type": "temporal", "axis": null},
      "x2": {"datum": {"year":2000,"month":1,"date":2,"hours":0,"minutes":27}},
      "y": {"datum": 70, "type": "quantitative", "axis": null}, "y2": {"datum": 120}}},
    {"data": {"name": "bg"}, "transform": [{"filter": "datum.panel == 'D'"}], "mark": {"type": "line", "color": "black", "strokeWidth": 2.5, "clip": true},
     "encoding": {"x": {"field": "t", "type": "temporal", "axis": null}, "y": {"field": "bg", "type": "quantitative", "axis": null}}},
    {"data": {"name": "bg"}, "transform": [{"filter": "datum.panel == 'D'"}], "mark": {"type": "point", "shape": "circle", "filled": true, "fill": "white", "stroke": "black", "strokeWidth": 2.8, "size": 80, "opacity": 1, "clip": true},
     "encoding": {"x": {"field": "t", "type": "temporal", "axis": null}, "y": {"field": "bg", "type": "quantitative", "axis": null}}},
    {"data": {"name": "bg"}, "transform": [
      {"filter": "datum.panel == 'D' && isValid(datum.line)"},
      {"calculate": "(datum.bg < 100 ? '\u2008' : '') + datum.bg", "as": "tok"},
      {"aggregate": [{"op": "values", "field": "tok", "as": "vals"}], "groupby": ["line"]},
      {"joinaggregate": [{"op": "max", "field": "line", "as": "maxline"}]},
      {"calculate": "join(pluck(datum.vals, 'tok'), '\u00a0\u00a0\u00a0') + (datum.line == datum.maxline ? '\u00a0\u00a0mg/dl' : '')", "as": "txt"},
      {"aggregate": [{"op": "values", "field": "txt", "as": "all"}]},
      {"calculate": "pluck(datum.all, 'txt')", "as": "lines"}],
     "mark": {"type": "text", "fontSize": 10, "lineHeight": 12, "align": "center", "baseline": "middle", "color": "black"},
     "encoding": {"x": {"datum": {"year":2000,"month":1,"date":2,"hours":0,"minutes":20}, "type": "temporal", "axis": null}, "y": {"datum": 166.9, "type": "quantitative", "axis": null}, "text": {"field": "lines", "type": "nominal"}}},
    {"data": {"values": [{}]}, "mark": {"type": "point", "shape": "circle", "filled": false, "stroke": "#2a3bd8", "strokeWidth": 1.3, "size": 360, "opacity": 1},
     "encoding": {"x": {"datum": {"year":2000,"month":1,"date":2,"hours":0,"minutes":12,"seconds":30}, "type": "temporal", "axis": null}, "y": {"datum": 167.5, "type": "quantitative", "axis": null}}},
    {"data": {"values": [{}]}, "mark": {"type": "point", "shape": "circle", "filled": false, "stroke": "#e3261b", "strokeWidth": 1.3, "size": 330, "opacity": 1},
     "encoding": {"x": {"datum": {"year":2000,"month":1,"date":2,"hours":0,"minutes":10,"seconds":30}, "type": "temporal", "axis": null}, "y": {"datum": 157.5, "type": "quantitative", "axis": null}}},
    {"data": {"values": [{}]}, "mark": {"type": "rule", "color": "#2a3bd8", "strokeWidth": 1.5},
     "encoding": {"x": {"datum": {"year":2000,"month":1,"date":2,"hours":0,"minutes":4,"seconds":30}, "type": "temporal", "axis": null}, "y": {"datum": 164.4, "type": "quantitative", "axis": null},
      "x2": {"datum": {"year":2000,"month":1,"date":1,"hours":23,"minutes":37,"seconds":48}}, "y2": {"datum": 125.9}}},
    {"data": {"values": [{}]}, "mark": {"type": "point", "shape": "triangle", "filled": true, "color": "#2a3bd8", "size": 35, "angle": 214, "opacity": 1},
     "encoding": {"x": {"datum": {"year":2000,"month":1,"date":1,"hours":23,"minutes":37,"seconds":48}, "type": "temporal", "axis": null}, "y": {"datum": 125.9, "type": "quantitative", "axis": null}}},
    {"data": {"values": [{}]}, "mark": {"type": "rule", "color": "#e3261b", "strokeWidth": 1.5},
     "encoding": {"x": {"datum": {"year":2000,"month":1,"date":2,"hours":0,"minutes":4,"seconds":30}, "type": "temporal", "axis": null}, "y": {"datum": 154.1, "type": "quantitative", "axis": null},
      "x2": {"datum": {"year":2000,"month":1,"date":1,"hours":23,"minutes":55,"seconds":54}}, "y2": {"datum": 84.8}}},
    {"data": {"values": [{}]}, "mark": {"type": "point", "shape": "triangle", "filled": true, "color": "#e3261b", "size": 35, "angle": 187, "opacity": 1},
     "encoding": {"x": {"datum": {"year":2000,"month":1,"date":1,"hours":23,"minutes":55,"seconds":54}, "type": "temporal", "axis": null}, "y": {"datum": 84.8, "type": "quantitative", "axis": null}}},
    {"data": {"values": [{}]}, "mark": {"type": "text", "fontSize": 10.5, "lineHeight": 12, "align": "center", "baseline": "middle", "color": "#3344e0"},
     "encoding": {"x": {"datum": {"year":2000,"month":1,"date":2,"hours":0,"minutes":23,"seconds":54}, "type": "temporal", "axis": null}, "y": {"datum": 113.1, "type": "quantitative", "axis": null}, "text": {"value": ["BG arrested", "@ 23:55"]}}}
   ]},
   {"bounds": "flush", "spacing": 45, "vconcat": [
    {"width": 74, "height": 65, "view": {"fill": "#fadada", "stroke": null}, "data": {"values": [{}]},
     "mark": {"type": "text", "fontSize": 10, "lineHeight": 11.5, "align": "center", "baseline": "middle", "color": "#4040c8", "dy": -6},
     "encoding": {"x": {"datum": {"year":2000,"month":1,"date":1,"hours":23,"minutes":58,"seconds":15}, "type": "temporal",
       "scale": {"domain": [{"year":2000,"month":1,"date":1,"hours":23,"minutes":29,"seconds":30},{"year":2000,"month":1,"date":2,"hours":0,"minutes":27}], "nice": false},
       "axis": {"values": [{"year":2000,"month":1,"date":1,"hours":23,"minutes":30},{"year":2000,"month":1,"date":2,"hours":0,"minutes":0}],
        "labelExpr": "minutes(datum.value) == 0 ? timeFormat(datum.value, '%-H:%M') : ''", "labelAngle": 270, "labelFontWeight": "bold", "labelFontSize": 10, "labelColor": "black", "labelPadding": 9, "labelFlush": false, "labelOverlap": false,
        "tickSize": 6, "tickWidth": 1.5, "tickColor": "black", "domainColor": "black", "domainWidth": 1, "title": null, "grid": false}},
      "text": {"value": ["120–81=39 mg/dl", "over 20 min"]}}},
    {"width": 74, "height": 65, "data": {"name": "glucagon"}, "transform": [{"filter": "datum.panel == 'D'"}],
     "mark": {"type": "rule", "color": "#e3261b", "strokeWidth": 2.5},
     "encoding": {"x": {"field": "t", "type": "temporal", "scale": {"domain": [{"year":2000,"month":1,"date":1,"hours":23,"minutes":29,"seconds":30},{"year":2000,"month":1,"date":2,"hours":0,"minutes":27}], "nice": false},
       "axis": {"values": [{"year":2000,"month":1,"date":2,"hours":0,"minutes":0}], "labels": false, "ticks": false, "domainColor": "black", "domainWidth": 2.5, "grid": true, "gridDash": [1,3], "gridColor": "#888", "title": null}},
      "y": {"field": "dose", "type": "quantitative", "scale": {"domain": [0,20], "nice": false},
       "axis": {"orient": "right", "values": [10,20], "labelExpr": "datum.value == 20 ? '20' : ''", "labelColor": "#e3261b", "labelFontWeight": "bold", "labelFontSize": 11, "labelPadding": 2,
        "tickSize": 4, "tickWidth": 2.5, "tickColor": {"condition": {"test": "datum.value == 20", "value": "black"}, "value": "transparent"},
        "domainColor": "black", "domainWidth": 2.5, "grid": true, "gridDash": [1,3], "gridColor": "#888",
        "title": ["Glucagon", "doses (µg)"], "titleAngle": 270, "titleBaseline": "top", "titleAlign": "center", "titleFontSize": 11, "titleFontWeight": "normal", "titlePadding": -27, "titleLineHeight": 11.5}},
      "y2": {"datum": 0}}}
   ]}
  ]
 }]
}
]}
]
}
